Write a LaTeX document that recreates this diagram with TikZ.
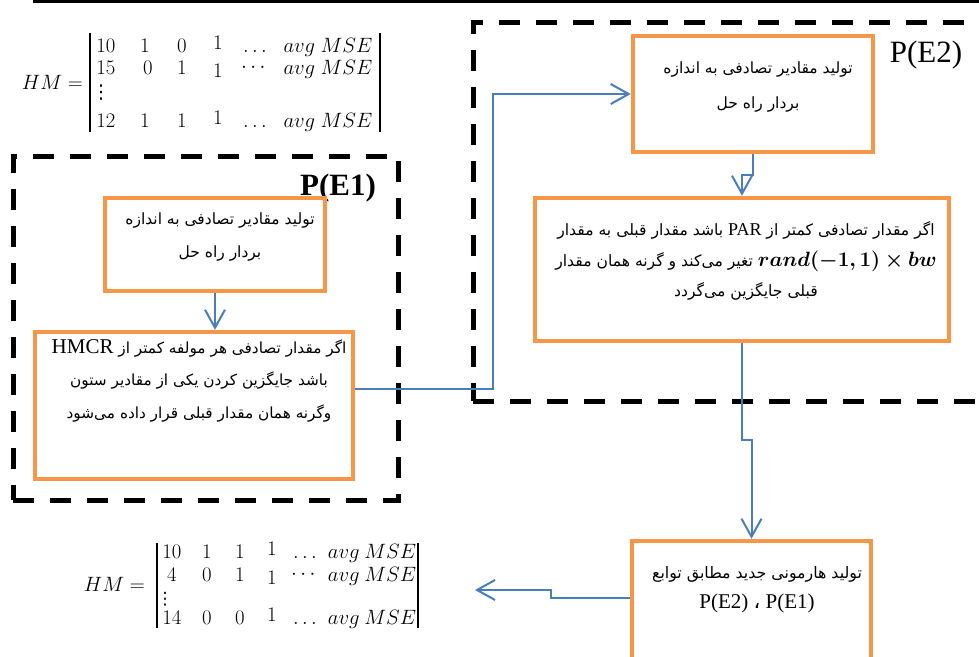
\documentclass[tikz,border=0pt]{standalone}
\usepackage[no-math]{fontspec}
\setmainfont{Liberation Serif}
\newfontfamily\arabicfont[Script=Arabic]{DejaVu Sans}
\newfontfamily\symfont{DejaVu Sans}
\usepackage{amsmath,bm}
\usetikzlibrary{arrows.meta}
\TeXXeTstate=1
\newcommand{\rtlx}[1]{{\arabicfont\beginR #1\endR}}
\newcommand{\lat}[2]{\beginL{\fontsize{#1}{#1}\rmfamily\selectfont #2}\endL{}}
\definecolor{boxorange}{HTML}{F79646}
\definecolor{arrblue}{HTML}{4A7EBB}
\tikzset{
  obox/.style={draw=boxorange, line width=4.5pt, fill=white, inner sep=0pt},
  dbox/.style={draw=black, line width=5pt, dash pattern=on 21pt off 16pt, inner sep=0pt},
  arr/.style={draw=arrblue, line width=2pt, -{Straight Barb[length=18pt,width=20pt]}},
  txt/.style={align=center, inner sep=0pt},
  mx/.style={anchor=base, inner sep=0pt},
  lbl/.style={inner sep=0pt}
}
\begin{document}
\begin{tikzpicture}[x=1pt,y=-1pt]
\useasboundingbox (0,0) rectangle (979,656);
\draw[line width=2.6pt] (33,1.3) -- (979,1.3);

% dashed groups
\node[dbox, minimum width=385pt, minimum height=344pt] (G1) at (205.5,328) {};
\node[dbox, minimum width=537pt, minimum height=378.5pt] (G2) at (741.5,211.75) {};

% group labels
\node[lbl, font=\fontsize{31}{31}\selectfont\bfseries] (L1) at (338,188) {P(E1)};
\node[lbl, font=\fontsize{31}{31}\selectfont] (L2) at (926,55) {P(E2)};

% boxes
\node[obox, minimum width=220pt, minimum height=93pt] (A) at (215,244.5) {};
\node[obox, minimum width=318pt, minimum height=147pt] (B) at (194,405.5) {};
\node[obox, minimum width=240pt, minimum height=116pt] (C) at (753,94) {};
\node[obox, minimum width=414pt, minimum height=143pt] (D) at (742,269.5) {};
\node[obox, minimum width=239pt, minimum height=160pt] (E) at (751.5,621) {};

% box texts
\node[txt, font=\fontsize{15.5}{33}\selectfont] (tA) at (220,236.5)
  {\rtlx{تولید مقادیر تصادفی به اندازه}\\ \rtlx{بردار راه حل}};
\node[txt, font=\fontsize{15.5}{35}\selectfont] (tC) at (758,87.5)
  {\rtlx{تولید مقادیر تصادفی به اندازه}\\ \rtlx{بردار راه حل}};
\node[txt, font=\fontsize{15.3}{32.5}\selectfont] (tB) at (199,380.5)
  {\rtlx{اگر مقدار تصادفی هر مولفه کمتر از \lat{21}{HMCR}}\\
   \rtlx{باشد جایگزین کردن یکی از مقادیر ستون}\\
   \rtlx{وگرنه همان مقدار قبلی قرار داده می^^^^200cشود}};
\node[txt, font=\fontsize{15.6}{30.5}\selectfont] (tD) at (746,261)
  {\rtlx{اگر مقدار تصادفی کمتر از \lat{18}{PAR} باشد مقدار قبلی به مقدار}\\
   \rtlx{\beginL{\fontsize{20.5}{20.5}\selectfont$\bm{rand(-1,1)\times bw}$}\endL{} تغیر می^^^^200cکند و گرنه همان مقدار}\\
   \rtlx{قبلی جایگزین می^^^^200cگردد}};
\node[txt, font=\fontsize{15.8}{30}\selectfont] (tE) at (757,590)
  {\rtlx{تولید هارمونی جدید مطابق توابع}\\
   {\fontsize{21}{21}\selectfont P(E2) {\arabicfont ،} P(E1)}};

% top matrix
\node[mx, anchor=base east, font=\fontsize{22}{24}\selectfont] (hm1) at (83,89) {$HM=$};
\draw[line width=1.8pt] (90,33) -- (90,132);
\draw[line width=1.8pt] (380,33) -- (380,132);
\begin{scope}[font=\fontsize{22}{24}\selectfont]
\foreach \e/\px/\py [count=\i] in {10/106/52, 1/145/52, 0/182/52, 1/218/49, \ldots/255/52, avg\ MSE/328/52,
  15/106/74, 0/148/74, 1/182/74, 1/218/77, \cdots/255/72, avg\ MSE/328/74,
  12/106/127, 1/145/127, 1/182/127, 1/218/124, \ldots/255/127, avg\ MSE/328/127}
  \node[mx] (ta\i) at (\px,\py) {$\e$};
\end{scope}
\node[inner sep=0pt, font=\symfont\fontsize{19}{19}\selectfont] (tv) at (101,93) {⋮};

% bottom matrix
\node[mx, anchor=base east, font=\fontsize{19.5}{21}\selectfont] (hm2) at (145,591.5) {$HM=$};
\draw[line width=1.8pt] (157,543) -- (157,628);
\draw[line width=1.8pt] (418,543) -- (418,628);
\begin{scope}[font=\fontsize{19.5}{21}\selectfont]
\foreach \e/\px/\py [count=\i] in {10/172/558.5, 1/207/558.5, 1/240/558.5, 1/272/555.5, \ldots/305/558.5, avg\ MSE/372/558.5,
  4/172/581.5, 0/207/581.5, 1/240/581.5, 1/272/584.5, \cdots/305/579.5, avg\ MSE/372/581.5,
  14/172/624.5, 0/207/624.5, 0/240/624.5, 1/272/621.5, \ldots/305/624.5, avg\ MSE/372/624.5}
  \node[mx] (tb\i) at (\px,\py) {$\e$};
\end{scope}
\node[inner sep=0pt, font=\symfont\fontsize{17}{17}\selectfont] (bv) at (165,599) {⋮};

% connectors
\coordinate (jb) at (493,389);
\coordinate (jc) at (752,175);
\coordinate (jd) at (742,440);
\coordinate (je) at (551,598);
\coordinate (hmtip) at (475,590);
\draw[arr] (A.south) -- (A.south |- B.north);
\draw[arr] (B.east |- jb) -- (jb) |- (C.west);
\draw[arr] (C.south) -- (C.south |- jc) -- (jc -| D.north) -- (D.north);
\draw[arr] (D.south) -- (D.south |- jd) -| (E.north);
\draw[arr] (E.west |- je) -- (je) -- (je |- hmtip) -- (hmtip);
\end{tikzpicture}
\end{document}
